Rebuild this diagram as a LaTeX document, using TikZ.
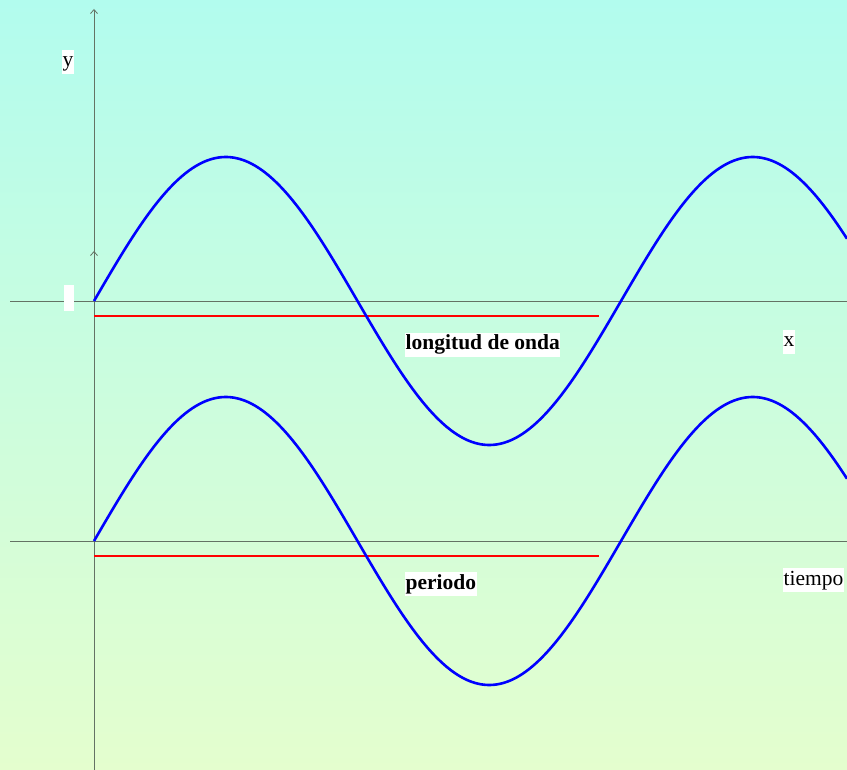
\documentclass[tikz,border=0pt]{standalone}
\usepackage{fontspec}
\setmainfont{Liberation Serif}
\usetikzlibrary{arrows.meta}
\definecolor{axisgray}{RGB}{100,114,100}
\begin{document}
\begin{tikzpicture}[x=1pt,y=-1pt,
  axis/.style={draw=axisgray, line width=0.9pt},
  axisarrow/.style={axis, -{Straight Barb[length=4pt,width=7pt,line width=0.8pt]}},
  wave/.style={draw=blue, line width=2.6pt},
  marker/.style={draw=red, line width=2.5pt},
  lab/.style={fill=white, inner xsep=0.5pt, inner ysep=0pt, text height=17pt, text depth=7pt, font=\fontsize{21.5}{24}\selectfont},
  blab/.style={lab, font=\fontsize{21.5}{24}\selectfont\bfseries}]
\shade[top color={rgb,255:red,178;green,252;blue,238}, bottom color={rgb,255:red,228;green,254;blue,206}] (0,0) rectangle (847,770);
\useasboundingbox (0,0) rectangle (847,770);
% axes
\coordinate (y1b) at (94,770); \coordinate (y1t) at (94,9);
\coordinate (y2b) at (94,592); \coordinate (y2t) at (94,251);
\coordinate (x1l) at (10,301); \coordinate (x1r) at (847,301);
\coordinate (x2l) at (10,541); \coordinate (x2r) at (847,541);
\draw[axisarrow] (y1b) -- (y1t);
\draw[axisarrow] (y2b) -- (y2t);
\draw[axis] (x1l) -- (x1r);
\draw[axis] (x2l) -- (x2r);
% red markers
\coordinate (r1a) at (94,316); \coordinate (r1b) at (599,316);
\coordinate (r2a) at (94,556); \coordinate (r2b) at (599,556);
\draw[marker] (r1a) -- (r1b);
\draw[marker] (r2a) -- (r2b);
% waves
\draw[wave, line join=round] plot[domain=94:847, samples=300, smooth] (\x, {301-144*sin(0.683112*(\x-94))});
\draw[wave, line join=round] plot[domain=94:847, samples=300, smooth] (\x, {541-144*sin(0.683112*(\x-94))});
% labels
\node[lab] (ly) at (68,62) {y};
\node[fill=white, minimum width=10pt, minimum height=26pt, inner sep=0pt] (blank) at (69,298) {};
\node[lab] (lx) at (789,342) {x};
\node[blab, anchor=west] (lwave) at (405,345) {longitud de onda};
\node[blab, anchor=west] (lper) at (405,584) {periodo};
\node[lab, anchor=west] (ltime) at (783,580) {tiempo};
\end{tikzpicture}
\end{document}
